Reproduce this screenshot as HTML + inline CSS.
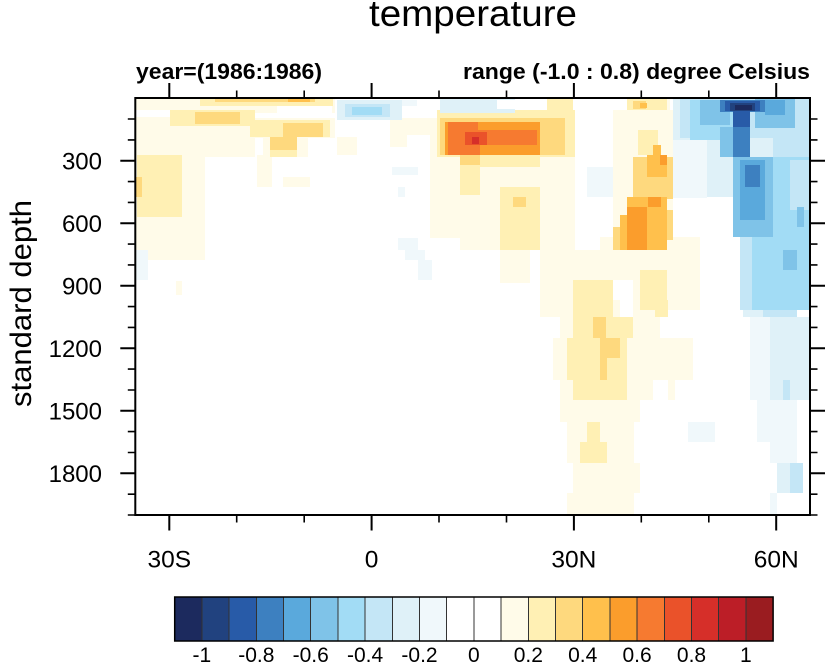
<!DOCTYPE html>
<html>
<head>
<meta charset="utf-8">
<style>
html,body{margin:0;padding:0;background:#fff;}
svg{display:block;}
text{font-family:"Liberation Sans",Arial,Helvetica,sans-serif;fill:#000;}
</style>
</head>
<body>
<svg width="827" height="663" viewBox="0 0 827 663" xmlns="http://www.w3.org/2000/svg">
<defs>
<clipPath id="pc"><rect x="135.3" y="98" width="674.7" height="417"/></clipPath>
</defs>
<rect x="0" y="0" width="827" height="663" fill="#fff"/>

<!-- Title & subtitles -->
<text x="473" y="26" font-size="37" text-anchor="middle" textLength="208" lengthAdjust="spacingAndGlyphs">temperature</text>
<text x="136" y="79" font-size="22" font-weight="bold" textLength="186" lengthAdjust="spacingAndGlyphs">year=(1986:1986)</text>
<text x="810" y="79" font-size="22" font-weight="bold" text-anchor="end" textLength="347" lengthAdjust="spacingAndGlyphs">range (-1.0 : 0.8) degree Celsius</text>

<!-- Data field -->
<g clip-path="url(#pc)" shape-rendering="crispEdges">
<!-- Y1 cream -->
<g fill="#fffbe9">
<rect x="135" y="98" width="200" height="15"/>
<rect x="135" y="112" width="120" height="45"/>
<rect x="135" y="150" width="70" height="110"/>
<rect x="255" y="118" width="80" height="20"/>
<rect x="263" y="137" width="45" height="20"/>
<rect x="257" y="155" width="15" height="32"/>
<rect x="283" y="177" width="27" height="10"/>
<rect x="176" y="281" width="6" height="14"/>
<rect x="337" y="137" width="20" height="18"/>
<rect x="390" y="118" width="90" height="17"/>
<rect x="390" y="135" width="17" height="12"/>
<rect x="430" y="133" width="50" height="105"/>
<rect x="460" y="155" width="115" height="95"/>
<rect x="500" y="250" width="30" height="33"/>
<rect x="540" y="250" width="35" height="60"/>
<rect x="573" y="250" width="60" height="30"/>
<rect x="613" y="110" width="60" height="140"/>
<rect x="600" y="237" width="100" height="33"/>
<rect x="633" y="257" width="67" height="53"/>
<rect x="540" y="300" width="80" height="17"/>
<rect x="633" y="300" width="30" height="17"/>
<rect x="560" y="317" width="100" height="21"/>
<rect x="553" y="338" width="140" height="42"/>
<rect x="560" y="380" width="93" height="20"/>
<rect x="668" y="380" width="7" height="20"/>
<rect x="560" y="400" width="80" height="22"/>
<rect x="567" y="422" width="67" height="41"/>
<rect x="573" y="463" width="67" height="30"/>
<rect x="567" y="493" width="67" height="22"/>
<rect x="627" y="98" width="43" height="30"/>
</g>
<!-- white gaps -->
<g fill="#ffffff">
<rect x="135" y="110" width="35" height="7"/>
<rect x="277" y="106" width="55" height="8"/>
</g>
<!-- Y2 -->
<g fill="#fff0b4">
<rect x="200" y="98" width="133" height="8"/>
<rect x="170" y="110" width="85" height="16"/>
<rect x="250" y="120" width="80" height="17"/>
<rect x="270" y="150" width="27" height="7"/>
<rect x="137" y="155" width="45" height="62"/>
<rect x="547" y="98" width="26" height="12"/>
<rect x="437" y="110" width="138" height="47"/>
<rect x="460" y="155" width="80" height="12"/>
<rect x="460" y="165" width="20" height="30"/>
<rect x="500" y="187" width="40" height="63"/>
<rect x="627" y="98" width="40" height="12"/>
<rect x="638" y="130" width="20" height="25"/>
<rect x="640" y="270" width="27" height="40"/>
<rect x="573" y="280" width="40" height="30"/>
<rect x="573" y="300" width="40" height="17"/>
<rect x="655" y="300" width="13" height="17"/>
<rect x="573" y="317" width="60" height="21"/>
<rect x="567" y="338" width="60" height="42"/>
<rect x="573" y="380" width="54" height="20"/>
<rect x="587" y="422" width="13" height="20"/>
<rect x="580" y="442" width="27" height="21"/>
</g>
<!-- Y3 -->
<g fill="#fed97e">
<rect x="215" y="98" width="100" height="4"/>
<rect x="195" y="112" width="45" height="12"/>
<rect x="283" y="123" width="40" height="14"/>
<rect x="270" y="137" width="27" height="13"/>
<rect x="135" y="177" width="7" height="20"/>
<rect x="440" y="118" width="125" height="37"/>
<rect x="460" y="153" width="20" height="12"/>
<rect x="513" y="197" width="13" height="10"/>
<rect x="633" y="101" width="13" height="8"/>
<rect x="633" y="157" width="40" height="42"/>
<rect x="613" y="227" width="14" height="23"/>
<rect x="660" y="210" width="13" height="30"/>
<rect x="593" y="317" width="13" height="21"/>
<rect x="600" y="338" width="20" height="20"/>
<rect x="600" y="358" width="7" height="22"/>
</g>
<!-- Y4 -->
<g fill="#ffc04c">
<rect x="288" y="99" width="22" height="3"/>
<rect x="640" y="103" width="7" height="5"/>
<rect x="653" y="145" width="8" height="12"/>
<rect x="647" y="155" width="20" height="22"/>
<rect x="627" y="197" width="40" height="53"/>
<rect x="620" y="215" width="7" height="35"/>
</g>
<!-- Y5 -->
<g fill="#fb9d2c">
<rect x="445" y="122" width="95" height="33"/>
<rect x="660" y="155" width="7" height="10"/>
<rect x="627" y="207" width="20" height="43"/>
<rect x="648" y="197" width="13" height="10"/>
</g>
<!-- Y6 -->
<g fill="#f67a30">
<rect x="448" y="122" width="30" height="33"/>
<rect x="460" y="130" width="77" height="15"/>
<rect x="460" y="145" width="20" height="10"/>
</g>
<rect x="465" y="132" width="22" height="13" fill="#ea522a"/>
<rect x="472" y="137" width="7" height="7" fill="#d62f29"/>

<!-- Blues -->
<g fill="#f0f8fb">
<rect x="135" y="250" width="13" height="30"/>
<rect x="392" y="100" width="25" height="6"/>
<rect x="392" y="167" width="26" height="8"/>
<rect x="398" y="187" width="7" height="10"/>
<rect x="398" y="238" width="20" height="12"/>
<rect x="405" y="250" width="20" height="10"/>
<rect x="418" y="260" width="14" height="20"/>
<rect x="587" y="167" width="26" height="30"/>
<rect x="673" y="140" width="34" height="58"/>
<rect x="750" y="317" width="60" height="83"/>
<rect x="757" y="400" width="40" height="42"/>
<rect x="770" y="442" width="27" height="21"/>
<rect x="770" y="493" width="7" height="22"/>
<rect x="688" y="422" width="27" height="20"/>
</g>
<g fill="#dff1f8">
<rect x="337" y="100" width="65" height="20"/>
<rect x="440" y="99" width="75" height="14"/>
<rect x="673" y="98" width="137" height="42"/>
<rect x="707" y="137" width="103" height="60"/>
<rect x="743" y="300" width="54" height="17"/>
<rect x="770" y="317" width="40" height="83"/>
<rect x="777" y="463" width="26" height="30"/>
</g>
<rect x="497" y="100" width="18" height="9" fill="#ffffff"/>
<g fill="#c4e6f6">
<rect x="345" y="104" width="45" height="13"/>
<rect x="680" y="98" width="130" height="40"/>
<rect x="773" y="127" width="37" height="30"/>
<rect x="763" y="300" width="34" height="17"/>
<rect x="783" y="380" width="7" height="20"/>
<rect x="790" y="463" width="13" height="30"/>
</g>
<g fill="#a2dcf5">
<rect x="352" y="107" width="30" height="8"/>
<rect x="690" y="100" width="45" height="40"/>
<rect x="773" y="157" width="37" height="80"/>
<rect x="740" y="237" width="70" height="73"/>
</g>
<g fill="#c4e6f6">
<rect x="790" y="160" width="20" height="50"/>
<rect x="740" y="237" width="12" height="73"/>
</g>
<g fill="#7fc3e8">
<rect x="700" y="100" width="30" height="25"/>
<rect x="755" y="98" width="40" height="30"/>
<rect x="720" y="127" width="13" height="30"/>
<rect x="733" y="157" width="40" height="80"/>
<rect x="797" y="207" width="7" height="20"/>
<rect x="783" y="250" width="14" height="20"/>
</g>
<g fill="#5aa9dc">
<rect x="765" y="100" width="20" height="15"/>
<rect x="740" y="160" width="25" height="60"/>
</g>
<g fill="#3d80c0">
<rect x="720" y="100" width="45" height="12"/>
<rect x="733" y="127" width="17" height="30"/>
<rect x="745" y="165" width="15" height="22"/>
</g>
<g fill="#285ba8">
<rect x="725" y="101" width="35" height="10"/>
<rect x="733" y="110" width="17" height="17"/>
</g>
<rect x="730" y="103" width="25" height="8" fill="#21427f"/>
<rect x="735" y="105" width="17" height="5" fill="#1c2a5e"/>
</g>

<!-- Frame -->
<rect x="135.3" y="98" width="674.7" height="417" fill="none" stroke="#000" stroke-width="2"/>

<!-- Ticks -->
<g stroke="#000" stroke-width="2" fill="none">
<path d="M169.3 515V530.5M371.6 515V530.5M573.9 515V530.5M776.2 515V530.5"/>
<path d="M169.3 98V83M371.6 98V83M573.9 98V83M776.2 98V83"/>
<path d="M135.3 160.7H120.3M135.3 223.2H120.3M135.3 285.8H120.3M135.3 348.3H120.3M135.3 410.8H120.3M135.3 473.3H120.3"/>
<path d="M810 160.7H825M810 223.2H825M810 285.8H825M810 348.3H825M810 410.8H825M810 473.3H825"/>
</g>
<g stroke="#000" stroke-width="1.6" fill="none">
<path d="M236.7 515V522.5M304.2 515V522.5M439 515V522.5M506.5 515V522.5M641.3 515V522.5M708.8 515V522.5"/>
<path d="M236.7 98V90.5M304.2 98V90.5M439 98V90.5M506.5 98V90.5M641.3 98V90.5M708.8 98V90.5"/>
<path d="M135.3 119H127.8M135.3 139.9H127.8M135.3 181.6H127.8M135.3 202.4H127.8M135.3 244.1H127.8M135.3 264.9H127.8M135.3 306.6H127.8M135.3 327.4H127.8M135.3 369.1H127.8M135.3 390H127.8M135.3 431.6H127.8M135.3 452.5H127.8M135.3 494.2H127.8M135.3 515H127.8"/>
<path d="M810 119H817.5M810 139.9H817.5M810 181.6H817.5M810 202.4H817.5M810 244.1H817.5M810 264.9H817.5M810 306.6H817.5M810 327.4H817.5M810 369.1H817.5M810 390H817.5M810 431.6H817.5M810 452.5H817.5M810 494.2H817.5M810 515H817.5"/>
</g>

<!-- Y tick labels -->
<g font-size="24" text-anchor="end">
<text x="102" y="169.5">300</text>
<text x="102" y="232">600</text>
<text x="102" y="294.5">900</text>
<text x="102" y="357">1200</text>
<text x="102" y="419.5">1500</text>
<text x="102" y="482">1800</text>
</g>
<!-- X tick labels -->
<g font-size="24.5" text-anchor="middle">
<text x="169.3" y="567.5">30S</text>
<text x="371.6" y="567.5">0</text>
<text x="573.9" y="567.5">30N</text>
<text x="776.2" y="567.5">60N</text>
</g>

<!-- Y axis title -->
<text transform="rotate(-90)" x="-303.5" y="31" font-size="30" text-anchor="middle" textLength="207" lengthAdjust="spacingAndGlyphs">standard depth</text>

<!-- Colorbar -->
<g stroke="#333" stroke-width="1" shape-rendering="crispEdges">
<rect x="174.7" y="597" width="27.2" height="44" fill="#1c2a5e"/>
<rect x="201.9" y="597" width="27.2" height="44" fill="#21427f"/>
<rect x="229.1" y="597" width="27.2" height="44" fill="#285ba8"/>
<rect x="256.3" y="597" width="27.2" height="44" fill="#3d80c0"/>
<rect x="283.5" y="597" width="27.2" height="44" fill="#5aa9dc"/>
<rect x="310.7" y="597" width="27.2" height="44" fill="#7fc3e8"/>
<rect x="337.9" y="597" width="27.2" height="44" fill="#a2dcf5"/>
<rect x="365.1" y="597" width="27.2" height="44" fill="#c4e6f6"/>
<rect x="392.3" y="597" width="27.2" height="44" fill="#dff1f8"/>
<rect x="419.5" y="597" width="27.2" height="44" fill="#f0f8fb"/>
<rect x="446.7" y="597" width="27.2" height="44" fill="#ffffff"/>
<rect x="473.9" y="597" width="27.2" height="44" fill="#ffffff"/>
<rect x="501.1" y="597" width="27.2" height="44" fill="#fffbe9"/>
<rect x="528.3" y="597" width="27.2" height="44" fill="#fff0b4"/>
<rect x="555.5" y="597" width="27.2" height="44" fill="#fed97e"/>
<rect x="582.7" y="597" width="27.2" height="44" fill="#ffc04c"/>
<rect x="609.9" y="597" width="27.2" height="44" fill="#fb9d2c"/>
<rect x="637.1" y="597" width="27.2" height="44" fill="#f67a30"/>
<rect x="664.3" y="597" width="27.2" height="44" fill="#ea522a"/>
<rect x="691.5" y="597" width="27.2" height="44" fill="#d62f29"/>
<rect x="718.7" y="597" width="27.2" height="44" fill="#bc1e27"/>
<rect x="745.9" y="597" width="27.2" height="44" fill="#9a1c20"/>
</g>
<rect x="174.7" y="597" width="598.4" height="44" fill="none" stroke="#000" stroke-width="1.5"/>
<g font-size="21" text-anchor="middle">
<text x="201.9" y="662">-1</text>
<text x="256.3" y="662">-0.8</text>
<text x="310.7" y="662">-0.6</text>
<text x="365.1" y="662">-0.4</text>
<text x="419.5" y="662">-0.2</text>
<text x="473.9" y="662">0</text>
<text x="528.3" y="662">0.2</text>
<text x="582.7" y="662">0.4</text>
<text x="637.1" y="662">0.6</text>
<text x="691.5" y="662">0.8</text>
<text x="745.9" y="662">1</text>
</g>
</svg>
</body>
</html>
